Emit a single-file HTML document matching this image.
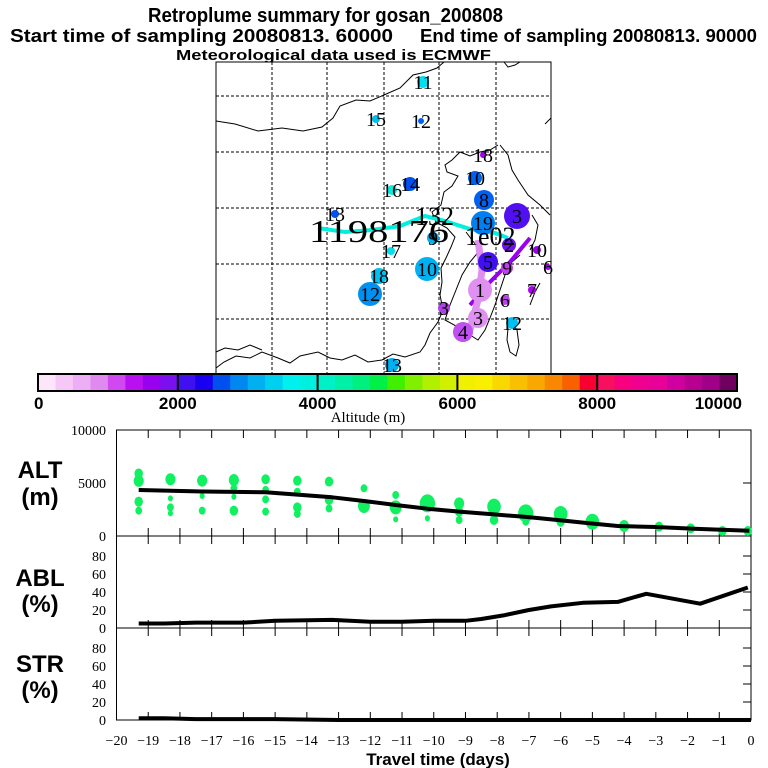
<!DOCTYPE html>
<html><head><meta charset="utf-8"><style>
html,body{margin:0;padding:0;background:#fff}
svg{display:block}
text{font-family:"Liberation Sans",sans-serif}
.serif{font-family:"Liberation Serif",serif}
</style></head><body>
<svg id="chart" width="768" height="768" viewBox="0 0 768 768" xmlns="http://www.w3.org/2000/svg">
<g font-weight="bold" fill="#000">
<text x="148" y="22" font-size="20" textLength="355" lengthAdjust="spacingAndGlyphs">Retroplume summary for gosan_200808</text>
<text x="10" y="42" font-size="18" textLength="383" lengthAdjust="spacingAndGlyphs">Start time of sampling 20080813. 60000</text>
<text x="420" y="42" font-size="18" textLength="337" lengthAdjust="spacingAndGlyphs">End time of sampling 20080813. 90000</text>
<text x="176" y="60" font-size="15" textLength="315" lengthAdjust="spacingAndGlyphs">Meteorological data used is ECMWF</text>
</g>
<g id="map"></g>
<g id="cbar"></g>
<g id="panels"></g>
</svg>
<script>
const NS='http://www.w3.org/2000/svg';
function mk(parent,tag,attrs,text){const e=document.createElementNS(NS,tag);for(const k in attrs)e.setAttribute(k,attrs[k]);if(text!==undefined)e.textContent=text;parent.appendChild(e);return e;}

// ---------- data ----------
const cbarColors=['#fde6fa','#f6c8f8','#eeaef5','#e08af0','#d048f0','#b810f0','#9a00f0','#7a10f0',
'#4010f0','#1a00f0','#0050f0','#0088f0','#00b0f0','#00d0f0','#00f0f0','#00f0e0',
'#00f0c8','#00f0a8','#00f080','#00f048','#40f000','#80f000','#b0f000','#d0f000',
'#f0f000','#f8f000','#f8d800','#f8c000','#f8a800','#f88800','#f86000','#f80030',
'#f81060','#f80080','#f00090','#e80098','#d000a0','#b80090','#a00088','#700060'];
const cbarTicks=[0,2000,4000,6000,8000,10000];
const dayTicks=[-20,-19,-18,-17,-16,-15,-14,-13,-12,-11,-10,-9,-8,-7,-6,-5,-4,-3,-2,-1,0];
const altTicks=[0,5000,10000];
const pctTicks=[0,20,40,60,80];
const altLineDays=[-19.3,-17.3,-15.3,-13.2,-12.2,-11.2,-10.2,-9.2,-8.1,-7.1,-6.1,-5.1,-4.2,-3.0,-1.8,-0.05];
const altLineVals=[4340,4200,4120,3650,3300,2925,2580,2300,2040,1800,1510,1200,940,850,690,500];
const dotDays=[-19.3,-19.3,-19.3,-19.3,-18.3,-18.3,-18.3,-18.3,-17.3,-17.3,-17.3,-16.3,-16.3,-16.3,-16.3,-15.3,-15.3,-15.3,-15.3,-14.3,-14.3,-14.3,-14.3,-13.3,-13.3,-13.3,-12.2,-12.2,-11.2,-11.2,-11.2,-10.2,-10.2,-9.2,-9.2,-9.2,-8.1,-8.1,-7.1,-7.1,-6.0,-6.0,-5.0,-4.0,-2.9,-1.9,-0.9,-0.1];
const dotAlts=[5900,5200,3240,2390,5350,3550,2700,2140,5220,3770,2390,5280,4500,3700,2390,5350,4340,3460,2300,5220,4180,2700,2080,5130,3400,2600,4500,2830,3870,2700,1570,3080,1670,3080,2300,1510,2770,1510,2140,1350,2080,1350,1350,940,880,720,470,470];
const dotSizes=[5,6,5,4,6,3,4,3,6,3,4,6,4,3,5,5,4,4,4,5,4,5,4,5,5,4,4,7,4,7,3,9,3,6,5,4,8,5,9,4,8,5,8,6,5,5,5,5];
const ablDays=[-19.3,-18.5,-17.5,-16,-15,-13.2,-12,-11,-10,-9,-8.5,-7.8,-7,-6.3,-5.3,-4.2,-3.3,-1.6,-0.1];
const ablVals=[5,5,6,6,8,9,7,7,8,8,10,14,20,24,28,29,38,27,45];
const strDays=[-19.3,-18.5,-17.5,-16,-15,-13,-10,-5,0];
const strVals=[2,2,1,1,1,0,0,0,0];

// ---------- map ----------
const map=document.getElementById('map');
const MX0=216,MX1=551,MY0=62,MY1=374;
mk(map,'rect',{x:MX0,y:MY0,width:MX1-MX0,height:MY1-MY0,fill:'#fff',stroke:'none'});
const coasts=[
'216,121 235,124 258,131 282,128 303,131 322,127 333,118 340,106 356,100 370,101 384,95 400,88 413,75 426,72 437,68 444,62',
'504,62 508,67 515,65 520,62',
'551,118 545,124',
'498,145 490,150 480,152 470,156 460,152 452,160 445,165 447,172 458,176 452,186 444,192 441,205 432,212 436,222 447,228 455,237 451,247 446,258 441,268 442,282 440,295 443,310 438,322 430,333 425,345 420,352 405,357 393,354 382,360 368,362 355,355 342,360 330,358 318,352 300,356 290,363 278,358 262,352 250,358 236,356 224,362 216,368',
'466,232 472,240 480,250 470,262 462,275 456,290 450,305 445,320 458,327 470,335 478,340 485,330 490,318 495,305 500,290 505,275 512,262 520,255',
'500,145 508,155 512,170 518,180 528,195 540,205 550,215',
'532,215 538,225 535,240 530,250',
'512,322 517,330 519,345 516,356 510,352 507,340 508,328',
'540,283 535,292 530,305',
'216,352 225,348 238,350 250,345 262,350'
];
coasts.forEach(function(p){
const c=mk(map,'polyline',{points:p,fill:'none',stroke:'#000','stroke-width':1});


});
[272,327,384,439,496].forEach(function(x){const l=mk(map,'line',{x1:x,y1:MY0,x2:x,y2:MY1,stroke:'#000','stroke-width':1,'stroke-dasharray':'3,2'});});
[96,152,208,264,319].forEach(function(y){const l=mk(map,'line',{x1:MX0,y1:y,x2:MX1,y2:y,stroke:'#000','stroke-width':1,'stroke-dasharray':'3,2'});});
const t1=mk(map,'polyline',{points:'318,228 345,232 372,230 400,226 425,216 445,221 470,229 495,233 508,238',fill:'none',stroke:'#00f0e0','stroke-width':4});

const t2=mk(map,'polyline',{points:'470,305 490,282 510,262 530,238',fill:'none',stroke:'#9a00f0','stroke-width':4});

const t3=mk(map,'polyline',{points:'478,240 482,270 478,300 470,330',fill:'none',stroke:'#e090f0','stroke-width':7});

const mapDots=[[423,82,6,'#00e0f0','11'],[376,119,4,'#00c0f0','15'],[421,121,3,'#0060f0','12'],[392,190,5,'#00f0e0','16'],[410,184,7,'#0050f0','14'],[475,178,7,'#0060f0','10'],[484,200,10,'#0060f0','8'],[483,155,3,'#a000f0','18'],[335,214,4,'#0050f0','13'],[483,223,12,'#0080f0','19'],[391,251,4,'#00e0f0','17'],[427,269,12,'#00b0f0','10'],[379,276,8,'#00c0f0','18'],[370,294,12,'#0090f0','12'],[433,238,6,'#00b0f0','9'],[517,216,13,'#5010f0','3'],[509,245,7,'#7010f0','2'],[488,262,10,'#4010f0','5'],[444,308,6,'#b040e8','3'],[463,332,10,'#c050f0','4'],[480,290,12,'#e090f0','1'],[478,318,10,'#e090f0','3'],[507,268,6,'#c040f0','9'],[537,250,4,'#a000f0','10'],[548,267,3,'#a000f0','6'],[532,290,4,'#b000f0','7'],[512,323,6,'#00c0f0','12'],[505,300,5,'#c040f0','6'],[392,365,7,'#00b0f0','13']];
mapDots.forEach(function(d){
const c=mk(map,'circle',{cx:d[0],cy:d[1],r:d[2],fill:d[3]});

const t=mk(map,'text',{x:d[0],y:d[1]+7,'font-size':20,'text-anchor':'middle',class:'serif',fill:'#000'},d[4]);

});
const big=mk(map,'text',{x:309,y:242,'font-size':32,class:'serif',fill:'#000',textLength:140,lengthAdjust:'spacingAndGlyphs'},'1198176');

const big2=mk(map,'text',{x:415,y:225,'font-size':26,class:'serif',fill:'#000'},'132');

const big3=mk(map,'text',{x:465,y:245,'font-size':26,class:'serif',fill:'#000'},'1e02');

const fr=mk(map,'rect',{x:MX0,y:MY0,width:MX1-MX0,height:MY1-MY0,fill:'none',stroke:'#000','stroke-width':1});


// ---------- colorbar ----------
const cb=document.getElementById('cbar');
const CB0=38,CB1=737,CBY=374,CBH=17;
const cw=(CB1-CB0)/cbarColors.length;
cbarColors.forEach(function(c,i){
const r=mk(cb,'rect',{x:CB0+i*cw,y:CBY,width:cw+0.5,height:CBH,fill:c});

});
mk(cb,'rect',{x:CB0,y:CBY,width:CB1-CB0,height:CBH,fill:'none',stroke:'#000','stroke-width':2});
cbarTicks.forEach(function(v){
const x=CB0+(v/10000)*(CB1-CB0);
mk(cb,'line',{x1:x,y1:CBY,x2:x,y2:CBY+CBH,stroke:'#000','stroke-width':2});
const t=mk(cb,'text',{x:v===0?34:(v===10000?742:x),y:409,'font-size':17,'font-weight':'bold','text-anchor':v===0?'start':(v===10000?'end':'middle')},String(v));

});
const cbt=mk(cb,'text',{x:368,y:422,'font-size':15,class:'serif','text-anchor':'middle'},'Altitude (m)');


// ---------- panels ----------
const P=document.getElementById('panels');
const PX0=116.5,PX1=751;
function xd(d){return PX1+d*(PX1-PX0)/20;}
const ALT_TOP=430,ALT_BOT=536;
function ya(v){return ALT_BOT-v/10000*(ALT_BOT-ALT_TOP);}
const ABL_BOT=628,STR_BOT=720,PCT_SCALE=(628-556)/80;
function yb(v){return ABL_BOT-v*PCT_SCALE;}
function ys(v){return STR_BOT-v*PCT_SCALE;}

mk(P,'rect',{x:PX0,y:ALT_TOP,width:PX1-PX0,height:STR_BOT-ALT_TOP,fill:'none',stroke:'#000','stroke-width':1});
mk(P,'line',{x1:PX0,y1:ALT_BOT,x2:PX1,y2:ALT_BOT,stroke:'#000'});
mk(P,'line',{x1:PX0,y1:ABL_BOT,x2:PX1,y2:ABL_BOT,stroke:'#000'});
dayTicks.forEach(function(d){
if(d===-20||d===0)return;
const x=xd(d);
[[ALT_TOP,ALT_TOP+8],[ALT_BOT-8,ALT_BOT+8],[ABL_BOT-8,ABL_BOT+8],[STR_BOT-8,STR_BOT]].forEach(function(s){mk(P,'line',{x1:x,y1:s[0],x2:x,y2:s[1],stroke:'#000'});});
});
dayTicks.forEach(function(d){
const t=mk(P,'text',{x:xd(d),y:745,'font-size':14,class:'serif','text-anchor':'middle'},d===0?'0':'\u2212'+Math.abs(d));

});
const xt=mk(P,'text',{x:438,y:765,'font-size':17,'font-weight':'bold','text-anchor':'middle'},'Travel time (days)');

altTicks.forEach(function(v){
const y=ya(v);
mk(P,'line',{x1:PX1-8,y1:y,x2:PX1,y2:y,stroke:'#000'});
const t=mk(P,'text',{x:106,y:y+5,'font-size':14,class:'serif','text-anchor':'end'},String(v));

});
pctTicks.forEach(function(v){
[[yb(v),'abl'],[ys(v),'str']].forEach(function(q){
mk(P,'line',{x1:PX1-8,y1:q[0],x2:PX1,y2:q[0],stroke:'#000'});
const t=mk(P,'text',{x:106,y:q[0]+5,'font-size':14,class:'serif','text-anchor':'end'},String(v));

});
});
[['ALT',478,'alt-label'],['(m)',505,'alt-unit'],['ABL',586,'abl-label'],['(%)',612,'abl-unit'],['STR',672,'str-label'],['(%)',698,'str-unit']].forEach(function(l){
const t=mk(P,'text',{x:40,y:l[1],'font-size':24,'font-weight':'bold','text-anchor':'middle'},l[0]);

});
dotDays.forEach(function(d,i){
const e=mk(P,'ellipse',{cx:xd(d),cy:ya(dotAlts[i]),rx:dotSizes[i]*0.85,ry:dotSizes[i],fill:'#10f060'});

});
function line(days,vals,yf,name){
const pts=days.map(function(d,i){return xd(d).toFixed(1)+','+yf(vals[i]).toFixed(1);}).join(' ');
const l=mk(P,'polyline',{points:pts,fill:'none',stroke:'#000','stroke-width':4,'stroke-linejoin':'round'});

}
line(altLineDays,altLineVals,ya,'mean-altitude-line');
line(ablDays,ablVals,yb,'abl-fraction-line');
line(strDays,strVals,ys,'str-fraction-line');
</script>
</body></html>
